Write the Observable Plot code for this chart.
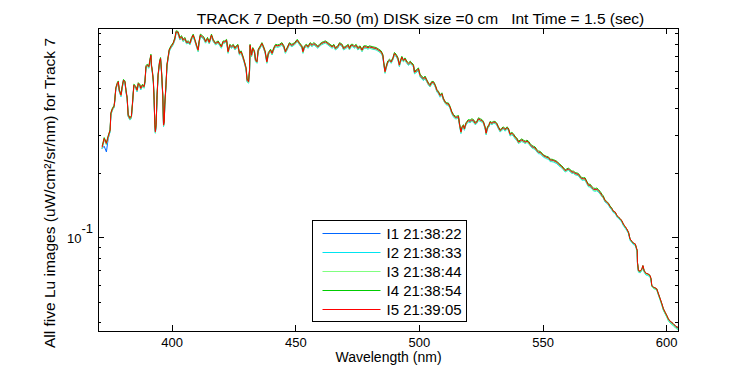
<!DOCTYPE html>
<html><head><meta charset="utf-8">
<script src="https://cdn.jsdelivr.net/npm/d3@7"></script>
<script src="https://cdn.jsdelivr.net/npm/@observablehq/plot@0.6"></script>
<style>body{margin:0;background:#fff}svg text{white-space:pre}</style>
</head><body><div id="chart"></div>
<script>
const wavelength = [
371.7,372.5,373.4,374.1,374.9,375.2,375.9,376.5,376.8,377.2,
377.8,378.2,378.6,379.3,379.8,380.3,380.9,381.3,381.8,382.2,
382.9,383.5,383.9,384.5,385.2,385.8,386.3,386.9,387.3,388.0,
388.6,389.0,389.4,389.9,390.6,391.0,391.4,391.6,392.0,392.4,
392.7,393.0,393.2,393.5,393.9,394.3,394.9,395.3,395.7,396.2,
396.5,396.8,397.0,397.5,397.9,398.4,398.8,399.5,400.4,401.1,
401.6,402.4,403.1,403.8,404.4,405.1,405.8,406.5,407.2,407.8,
408.5,409.2,410.0,410.5,410.9,411.4,412.3,412.9,413.5,414.3,
415.0,415.9,416.6,417.5,418.6,419.3,419.9,420.6,421.3,422.0,
422.6,423.3,424.0,424.7,425.4,425.9,426.6,427.2,427.9,428.6,
429.2,429.9,430.3,430.9,431.3,431.5,432.1,432.6,433.3,433.7,
434.3,434.8,435.6,436.3,436.9,437.6,438.3,438.9,439.8,440.4,
441.1,441.8,442.7,443.4,444.4,445.2,445.8,446.5,447.4,448.4,
449.5,450.6,451.5,452.5,452.9,453.5,454.2,455.0,455.8,456.6,
457.3,458.2,458.9,459.6,460.3,461.2,462.0,463.0,463.9,464.7,
465.4,466.0,467.0,467.7,468.8,469.3,470.4,471.2,471.7,472.4,
473.1,473.7,474.4,475.1,476.0,476.8,477.5,478.5,479.2,479.8,
481.2,482.5,483.6,484.5,485.2,485.6,486.1,486.6,487.2,487.9,
488.6,489.3,489.9,490.6,491.3,491.9,492.2,492.9,493.5,494.2,
494.9,495.6,496.3,496.9,497.6,498.0,499.0,499.6,500.3,501.0,
501.6,502.3,503.0,503.7,504.3,505.0,505.7,506.4,507.1,507.7,
508.4,509.1,509.7,510.4,511.1,511.7,512.4,513.1,513.8,514.5,
515.1,515.8,516.2,516.8,517.2,517.8,518.2,518.8,519.2,519.8,
520.5,521.2,521.9,522.5,523.2,523.9,524.6,525.3,525.9,526.6,
527.0,527.5,528.1,528.6,529.3,530.0,530.6,531.3,532.0,532.7,
533.3,534.0,534.7,535.4,536.0,536.7,537.4,538.0,538.7,539.4,
540.1,540.7,541.4,542.1,542.8,543.5,544.1,544.8,545.5,546.1,
546.8,547.5,548.2,548.8,549.5,550.2,550.9,551.5,552.2,552.9,
553.6,554.2,554.9,555.6,556.2,557.6,559.0,559.6,560.3,561.0,
561.7,562.3,563.0,563.7,564.3,565.0,565.7,566.4,567.0,567.7,
568.4,569.1,569.7,570.4,571.1,571.8,572.4,573.1,573.8,574.4,
575.1,575.8,576.5,577.1,577.8,578.5,579.2,579.9,580.5,581.2,
581.9,582.5,583.2,583.9,584.6,585.2,585.9,586.6,587.3,587.7,
588.1,588.2,588.6,589.3,590.0,590.4,590.9,591.6,592.4,593.3,
593.7,594.0,594.7,595.3,596.0,596.7,597.4,598.1,598.7,599.4,
600.1,600.7,601.4,602.6,603.8,604.7];

// I1 21:38:22 (blue)
const lu1 = [
.262,.268,.252,.290,.316,.379,.400,.409,.438,.496,
.523,.533,.486,.461,.505,.542,.533,.486,.446,.372,
.359,.366,.415,.514,.505,.486,.523,.514,.496,.514,
.505,.533,.627,.638,.627,.673,.709,.638,.594,.533,
.438,.334,.311,.334,.461,.572,.661,.686,.594,.461,
.334,.346,.415,.514,.638,.697,.749,.777,.805,.850,
.914,.907,.850,.866,.834,.850,.814,.820,.805,.850,
.881,.834,.777,.749,.820,.881,.866,.850,.820,.850,
.814,.881,.834,.805,.820,.796,.777,.820,.820,.834,
.736,.790,.777,.790,.763,.777,.790,.723,.736,.697,
.661,.615,.542,.533,.604,.790,.709,.763,.736,.673,
.661,.749,.777,.805,.777,.736,.661,.723,.749,.723,
.763,.790,.785,.790,.805,.777,.736,.763,.805,.790,
.805,.834,.805,.777,.736,.777,.790,.777,.805,.790,
.805,.790,.777,.790,.805,.814,.820,.805,.790,.777,
.790,.763,.777,.805,.790,.763,.777,.790,.763,.790,
.790,.777,.790,.763,.777,.749,.777,.777,.769,.777,
.769,.763,.749,.736,.709,.650,.594,.627,.661,.673,
.661,.686,.723,.709,.686,.638,.659,.695,.671,.683,
.659,.647,.659,.647,.636,.591,.602,.613,.570,.560,
.550,.560,.540,.521,.512,.530,.530,.512,.485,.476,
.459,.468,.444,.428,.421,.421,.406,.384,.371,.364,
.364,.367,.339,.310,.325,.333,.321,.339,.345,.351,
.349,.354,.351,.341,.345,.358,.354,.351,.345,.325,
.306,.325,.333,.345,.341,.345,.345,.339,.325,.315,
.321,.325,.318,.325,.321,.302,.306,.302,.294,.289,
.279,.282,.286,.282,.279,.282,.279,.272,.266,.264,
.262,.255,.250,.250,.246,.241,.239,.237,.236,.230,
.230,.229,.227,.225,.221,.214,.205,.207,.209,.205,
.202,.202,.199,.198,.197,.192,.188,.188,.188,.181,
.175,.175,.171,.168,.167,.168,.165,.162,.157,.154,
.148,.146,.143,.139,.136,.132,.131,.126,.124,.122,
.119,.115,.112,.109,.105,.0985,.0960,.0940,.0933,.0900,
.0868,.0765,.0699,.0694,.0712,.0738,.0699,.0679,.0675,.0663,
.0639,.0594,.0584,.0580,.0574,.0543,.0515,.0487,.0462,.0445,
.0429,.0414,.0404,.0394,.0381,.0377];

// I2 21:38:33 (cyan)
const lu2 = [
.262,.287,.272,.292,.313,.375,.396,.405,.434,.491,
.518,.528,.481,.456,.500,.537,.528,.481,.442,.368,
.355,.362,.411,.509,.500,.481,.518,.509,.491,.509,
.500,.528,.620,.631,.620,.666,.701,.631,.587,.528,
.434,.331,.308,.331,.456,.565,.654,.679,.587,.456,
.331,.342,.411,.509,.631,.689,.741,.769,.797,.840,
.904,.897,.840,.856,.826,.840,.806,.812,.797,.840,
.871,.826,.769,.741,.812,.871,.856,.840,.812,.840,
.806,.871,.826,.797,.812,.788,.769,.812,.812,.826,
.728,.782,.769,.782,.755,.769,.782,.715,.728,.689,
.654,.608,.535,.528,.597,.782,.701,.755,.728,.666,
.654,.741,.769,.797,.769,.728,.654,.715,.741,.715,
.755,.782,.777,.782,.797,.769,.728,.755,.797,.782,
.797,.826,.797,.769,.728,.769,.782,.769,.797,.782,
.797,.782,.769,.782,.797,.806,.812,.797,.782,.769,
.782,.755,.769,.797,.782,.755,.769,.782,.755,.782,
.782,.769,.782,.755,.769,.741,.769,.769,.761,.769,
.761,.755,.741,.728,.701,.643,.587,.620,.654,.666,
.654,.679,.715,.701,.679,.631,.652,.688,.664,.676,
.652,.640,.652,.640,.629,.584,.595,.606,.563,.553,
.543,.553,.535,.516,.507,.525,.525,.507,.480,.471,
.454,.463,.440,.424,.417,.417,.402,.380,.367,.360,
.360,.363,.336,.307,.322,.330,.318,.336,.342,.347,
.345,.350,.347,.338,.342,.354,.350,.347,.342,.322,
.303,.322,.330,.342,.338,.342,.342,.336,.322,.312,
.318,.322,.315,.322,.318,.299,.303,.299,.290,.285,
.276,.279,.282,.279,.276,.279,.276,.269,.263,.261,
.259,.252,.247,.247,.243,.238,.236,.234,.233,.227,
.227,.226,.224,.222,.218,.212,.203,.205,.207,.203,
.200,.200,.197,.196,.195,.190,.186,.186,.186,.179,
.173,.173,.169,.166,.165,.166,.163,.160,.156,.153,
.147,.145,.142,.138,.135,.131,.130,.125,.123,.121,
.118,.114,.111,.108,.1045,.0974,.0949,.0929,.0922,.0889,
.0860,.0757,.0691,.0686,.0704,.0730,.0691,.0671,.0667,.0655,
.0631,.0590,.0580,.0576,.0570,.0539,.0511,.0483,.0458,.0441,
.0425,.0410,.0400,.0390,.0377,.0373];

// I3 21:38:44 (light green)
const lu3 = [
.263,.288,.273,.294,.315,.377,.398,.407,.436,.495,
.520,.530,.485,.460,.502,.539,.530,.485,.444,.370,
.357,.364,.413,.511,.502,.485,.520,.511,.495,.511,
.502,.530,.624,.635,.624,.670,.705,.635,.591,.530,
.436,.333,.310,.333,.460,.569,.658,.683,.591,.460,
.333,.345,.413,.511,.635,.693,.745,.773,.801,.846,
.910,.903,.846,.862,.830,.846,.810,.816,.801,.846,
.877,.830,.773,.745,.816,.877,.862,.846,.816,.846,
.810,.877,.830,.801,.816,.792,.773,.816,.816,.830,
.732,.786,.773,.786,.759,.773,.786,.719,.732,.693,
.658,.612,.539,.530,.601,.786,.705,.759,.732,.670,
.658,.745,.773,.801,.773,.732,.658,.719,.745,.719,
.759,.786,.781,.786,.801,.773,.732,.759,.801,.786,
.801,.830,.801,.773,.732,.773,.786,.773,.801,.786,
.801,.786,.773,.786,.801,.810,.816,.801,.786,.773,
.786,.759,.773,.801,.786,.759,.773,.786,.759,.786,
.786,.773,.786,.759,.773,.745,.773,.773,.765,.773,
.765,.759,.745,.732,.705,.647,.591,.624,.658,.670,
.658,.683,.719,.705,.683,.635,.656,.692,.668,.680,
.656,.644,.656,.644,.633,.588,.599,.610,.567,.557,
.547,.557,.537,.518,.509,.527,.527,.509,.484,.475,
.458,.467,.442,.426,.419,.419,.404,.382,.369,.362,
.362,.365,.338,.309,.324,.332,.320,.338,.344,.349,
.347,.352,.349,.340,.344,.356,.352,.349,.344,.324,
.305,.324,.332,.344,.340,.344,.344,.338,.324,.314,
.320,.324,.317,.324,.320,.301,.305,.301,.292,.287,
.277,.280,.284,.280,.277,.280,.277,.270,.264,.262,
.260,.254,.249,.249,.245,.240,.238,.236,.235,.229,
.229,.228,.226,.224,.220,.213,.204,.206,.208,.204,
.201,.201,.198,.197,.196,.191,.187,.187,.187,.180,
.174,.174,.170,.167,.166,.167,.164,.161,.156,.153,
.148,.146,.143,.139,.136,.132,.131,.126,.124,.122,
.119,.115,.112,.109,.105,.0982,.0957,.0937,.0930,.0897,
.0865,.0762,.0696,.0691,.0709,.0735,.0696,.0676,.0672,.0660,
.0636,.0591,.0581,.0577,.0571,.0540,.0512,.0484,.0459,.0442,
.0426,.0411,.0401,.0391,.0378,.0374];

// I4 21:38:54 (green)
const lu4 = [
.269,.294,.279,.300,.321,.385,.406,.415,.444,.504,
.531,.541,.494,.469,.513,.550,.541,.494,.452,.378,
.365,.372,.421,.522,.513,.494,.531,.522,.504,.522,
.513,.541,.637,.648,.637,.683,.721,.648,.604,.541,
.444,.339,.316,.339,.469,.582,.671,.696,.604,.469,
.339,.351,.421,.522,.648,.709,.761,.789,.817,.864,
.928,.921,.864,.880,.846,.864,.826,.832,.817,.864,
.895,.846,.789,.761,.832,.895,.880,.864,.832,.864,
.826,.895,.846,.817,.832,.808,.789,.832,.832,.846,
.748,.802,.789,.802,.775,.789,.802,.735,.748,.709,
.671,.625,.552,.541,.614,.802,.721,.775,.748,.683,
.671,.761,.789,.817,.789,.748,.671,.735,.761,.735,
.775,.802,.797,.802,.817,.789,.748,.775,.817,.802,
.817,.846,.817,.789,.748,.789,.802,.789,.817,.802,
.817,.802,.789,.802,.817,.826,.832,.817,.802,.789,
.802,.775,.789,.817,.802,.775,.789,.802,.775,.802,
.802,.789,.802,.775,.789,.761,.789,.789,.781,.789,
.781,.775,.761,.748,.721,.660,.604,.637,.671,.683,
.671,.696,.735,.721,.696,.648,.669,.705,.681,.693,
.669,.657,.669,.657,.646,.601,.612,.623,.580,.570,
.558,.570,.548,.529,.520,.538,.538,.520,.493,.484,
.466,.476,.450,.434,.427,.427,.412,.390,.377,.370,
.370,.373,.344,.315,.330,.338,.326,.344,.350,.357,
.355,.360,.357,.347,.350,.364,.360,.357,.350,.330,
.311,.330,.338,.350,.346,.350,.350,.344,.330,.320,
.326,.330,.323,.330,.326,.307,.311,.307,.298,.293,
.283,.286,.290,.286,.283,.286,.283,.276,.270,.268,
.266,.259,.254,.254,.249,.244,.242,.240,.239,.233,
.233,.232,.230,.228,.224,.217,.208,.210,.212,.208,
.205,.205,.202,.201,.200,.195,.191,.191,.191,.184,
.178,.178,.174,.171,.170,.171,.168,.165,.160,.157,
.150,.148,.145,.141,.138,.133,.132,.127,.125,.123,
.120,.116,.113,.110,.106,.0989,.0964,.0944,.0937,.0904,
.0872,.0769,.0703,.0698,.0716,.0742,.0703,.0683,.0679,.0667,
.0643,.0598,.0588,.0584,.0578,.0547,.0519,.0491,.0466,.0449,
.0433,.0418,.0408,.0398,.0385,.0381];

// I5 21:39:05 (red, drawn on top)
const lu5 = [
.266,.291,.276,.297,.318,.381,.402,.411,.440,.499,
.526,.536,.489,.464,.508,.545,.536,.489,.448,.374,
.361,.368,.417,.517,.508,.489,.526,.517,.499,.517,
.508,.536,.630,.641,.630,.676,.713,.641,.597,.536,
.440,.336,.313,.336,.464,.575,.664,.689,.597,.464,
.336,.348,.417,.517,.641,.701,.753,.781,.809,.854,
.918,.911,.854,.870,.838,.854,.818,.824,.809,.854,
.885,.838,.781,.753,.824,.885,.870,.854,.824,.854,
.818,.885,.838,.809,.824,.800,.781,.824,.824,.838,
.740,.794,.781,.794,.767,.781,.794,.727,.740,.701,
.664,.618,.545,.536,.607,.794,.713,.767,.740,.676,
.664,.753,.781,.809,.781,.740,.664,.727,.753,.727,
.767,.794,.789,.794,.809,.781,.740,.767,.809,.794,
.809,.838,.809,.781,.740,.781,.794,.781,.809,.794,
.809,.794,.781,.794,.809,.818,.824,.809,.794,.781,
.794,.767,.781,.809,.794,.767,.781,.794,.767,.794,
.794,.781,.794,.767,.781,.753,.781,.781,.773,.781,
.773,.767,.753,.740,.713,.653,.597,.630,.664,.676,
.664,.689,.727,.713,.689,.641,.662,.698,.674,.686,
.662,.650,.662,.650,.639,.594,.605,.616,.573,.563,
.553,.563,.543,.524,.515,.533,.533,.515,.488,.479,
.462,.471,.446,.430,.423,.423,.408,.386,.373,.366,
.366,.369,.341,.312,.327,.335,.323,.341,.347,.353,
.351,.356,.353,.343,.347,.360,.356,.353,.347,.327,
.308,.327,.335,.347,.343,.347,.347,.341,.327,.317,
.323,.327,.320,.327,.323,.304,.308,.304,.295,.290,
.280,.283,.287,.283,.280,.283,.280,.273,.267,.265,
.263,.256,.251,.251,.247,.242,.240,.238,.237,.231,
.231,.230,.228,.226,.222,.215,.206,.208,.210,.206,
.203,.203,.200,.199,.198,.193,.189,.189,.189,.182,
.176,.176,.172,.169,.168,.169,.166,.163,.158,.155,
.149,.147,.144,.140,.137,.133,.132,.127,.125,.123,
.120,.116,.113,.110,.106,.0989,.0964,.0944,.0937,.0904,
.0872,.0769,.0703,.0698,.0716,.0742,.0703,.0683,.0679,.0667,
.0643,.0598,.0588,.0584,.0578,.0547,.0519,.0491,.0466,.0449,
.0433,.0418,.0408,.0398,.0385,.0381];

const seriesNames = ["I1 21:38:22","I2 21:38:33","I3 21:38:44","I4 21:38:54","I5 21:39:05"];
const seriesColors = ["#0066ff","#00e4f0","#80ff80","#00cc00","#ff0000"];
const xTicks = [400,450,500,550,600];
const yMajorTicks = [0.1];
const yMinorTicks = [0.04,0.05,0.06,0.07,0.08,0.09,0.2,0.3,0.4,0.5,0.6,0.7,0.8,0.9];
const titleText = "TRACK 7 Depth =0.50 (m) DISK size =0 cm   Int Time = 1.5 (sec)";
const xLabel = "Wavelength (nm)";
const yLabel = "All five Lu images (uW/cm\u00B2/sr/nm) for Track 7";

const seriesValues = [lu1, lu2, lu3, lu4, lu5];
const table = [];
seriesValues.forEach((arr, s) => {
  const n = Math.min(arr.length, wavelength.length);
  for (let i = 0; i < n; i++) table.push({w: wavelength[i], v: arr[i], s: seriesNames[s]});
});

const FONT = "'Liberation Sans', Arial, Helvetica, sans-serif";

function tickMarks(index, scales, values, dims) {
  const {x, y} = scales;
  const l = dims.marginLeft, r = dims.width - dims.marginRight;
  const t = dims.marginTop, b = dims.height - dims.marginBottom;
  const g = d3.create("svg:g").attr("stroke", "black").attr("stroke-width", 1).attr("shape-rendering", "crispEdges");
  const seg = (x1, y1, x2, y2) => g.append("line").attr("x1", x1).attr("y1", y1).attr("x2", x2).attr("y2", y2);
  for (const v of xTicks) { const px = Math.round(x(v)) + 0.5; seg(px, b, px, b - 6); seg(px, t, px, t + 6); }
  for (const v of yMajorTicks) { const py = Math.round(y(v)) + 0.5; seg(l, py, l + 6, py); seg(r, py, r - 6, py); }
  for (const v of yMinorTicks) { const py = Math.round(y(v)) + 0.5; seg(l, py, l + 3, py); seg(r, py, r - 3, py); }
  return g.node();
}

function legendBox(index, scales, values, dims) {
  const g = d3.create("svg:g").attr("font-family", FONT).attr("font-size", 15).attr("text-anchor", "start");
  const bx = 312.5, by = 220.5, bw = 154, bh = 101, row = 19.2;
  g.append("rect").attr("x", bx).attr("y", by).attr("width", bw).attr("height", bh)
    .attr("fill", "white").attr("stroke", "black").attr("shape-rendering", "crispEdges");
  seriesNames.forEach((name, i) => {
    const cy = Math.round(by + 12 + i * row) + 0.5;
    g.append("line").attr("x1", bx + 10).attr("x2", bx + 68).attr("y1", cy).attr("y2", cy)
      .attr("stroke", seriesColors[i]).attr("stroke-width", 1);
    g.append("text").attr("x", bx + 74).attr("y", cy).attr("dy", "0.36em").attr("fill", "black")
      .attr("text-anchor", "start").text(name);
  });
  return g.node();
}

const chart = Plot.plot({
  width: 750, height: 375,
  marginLeft: 98, marginRight: 72, marginTop: 28, marginBottom: 44,
  style: {fontFamily: FONT, fontSize: "13px", background: "white", color: "black", overflow: "visible"},
  x: {domain: [370.2, 604.8], axis: null},
  y: {type: "log", domain: [0.0365, 0.951], axis: null},
  color: {domain: seriesNames, range: seriesColors},
  marks: [
    Plot.line(table, {x: "w", y: "v", z: "s", stroke: "s", strokeWidth: 1, clip: true}),
    Plot.frame({stroke: "black"}),
    tickMarks,
    Plot.text(xTicks, {x: d => d, text: d => String(d), frameAnchor: "bottom", dy: 15, fontSize: 13}),
    Plot.text(yMajorTicks, {y: d => d, text: () => "10", frameAnchor: "left", textAnchor: "end", dx: -17, dy: 1, fontSize: 13}),
    Plot.text(yMajorTicks, {y: d => d, text: () => "-1", frameAnchor: "left", textAnchor: "start", dx: -17, dy: -9, fontSize: 13}),
    Plot.text([xLabel], {frameAnchor: "bottom", dy: 30, fontSize: 14}),
    Plot.text([yLabel], {frameAnchor: "left", textAnchor: "middle", rotate: -90, dx: -48, dy: 13, fontSize: 15.5}),
    Plot.text([titleText], {frameAnchor: "top", textAnchor: "middle", dx: 32, dy: -16, fontSize: 15.5}),
    legendBox
  ]
});
document.getElementById("chart").appendChild(chart);
</script>
</body></html>
